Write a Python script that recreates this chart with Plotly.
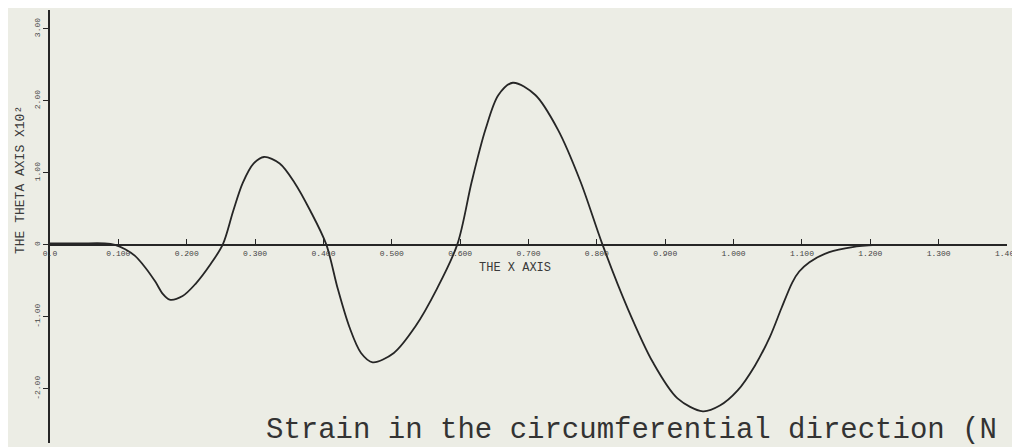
import plotly.graph_objects as go

# Curve data
x_vals = [0.000, 0.044, 0.080, 0.095, 0.110, 0.124, 0.139, 0.154, 0.165, 0.175,
          0.194, 0.213, 0.234, 0.253, 0.268, 0.282, 0.298, 0.313, 0.336, 0.358,
          0.381, 0.404, 0.421, 0.438, 0.455, 0.472, 0.503, 0.534, 0.566, 0.596,
          0.617, 0.637, 0.656, 0.677, 0.710, 0.743, 0.776, 0.808, 0.845, 0.882,
          0.918, 0.955, 0.980, 1.006, 1.031, 1.053, 1.070, 1.086, 1.096, 1.111,
          1.140, 1.174, 1.209]
theta_vals = [0.02, 0.02, 0.02, 0.00, -0.06, -0.15, -0.31, -0.51, -0.68, -0.76,
              -0.71, -0.54, -0.28, 0.01, 0.47, 0.86, 1.13, 1.22, 1.13, 0.86,
              0.47, 0.01, -0.61, -1.14, -1.50, -1.63, -1.50, -1.14, -0.61, 0.01,
              0.88, 1.60, 2.08, 2.25, 2.08, 1.60, 0.88, 0.01, -0.88, -1.63,
              -2.13, -2.31, -2.23, -2.02, -1.68, -1.28, -0.88, -0.52, -0.37, -0.24,
              -0.10, -0.03, 0.00]

x_tick_vals = [0.0, 0.1, 0.2, 0.3, 0.4, 0.5, 0.6, 0.7, 0.8, 0.9, 1.0, 1.1, 1.2, 1.3, 1.4]
x_tick_text = ["0.0", "0.100", "0.200", "0.300", "0.400", "0.500", "0.600", "0.700",
               "0.800", "0.900", "1.000", "1.100", "1.200", "1.300", "1.400"]
y_tick_vals = [-2, -1, 0, 1, 2, 3]
y_tick_text = ["-2.00", "-1.00", "0", "1.00", "2.00", "3.00"]

x_range = [0, 1.4]
y_range = [-2.75, 3.26]

paper_bg = "#ECEDE5"
ink = "#262626"
mono = "Liberation Mono, DejaVu Sans Mono, monospace"

fig = go.Figure()
fig.add_trace(go.Scatter(
    x=x_vals, y=theta_vals, mode="lines",
    line=dict(color=ink, width=1.8, shape="spline", smoothing=0.9),
    hoverinfo="skip", showlegend=False,
))

zero_pos = (0 - y_range[0]) / (y_range[1] - y_range[0])

fig.update_layout(
    width=1020, height=447,
    margin=dict(l=42, r=21, t=2, b=12),
    paper_bgcolor=paper_bg, plot_bgcolor=paper_bg,
    showlegend=False,
    xaxis=dict(
        range=x_range, anchor="free", position=zero_pos, automargin=False,
        showline=True, linecolor=ink, linewidth=2.2,
        showgrid=False, zeroline=False,
        ticks="inside", ticklen=5, tickwidth=1, tickcolor=ink,
        tickvals=x_tick_vals, ticktext=x_tick_text,
        tickfont=dict(family=mono, size=8, color="#444"),
    ),
    yaxis=dict(
        range=y_range, automargin=False,
        showline=True, linecolor=ink, linewidth=1.6,
        showgrid=False, zeroline=False,
        ticks="outside", ticklen=5, tickwidth=1, tickcolor=ink,
        tickvals=y_tick_vals, ticktext=y_tick_text, tickangle=-90,
        tickfont=dict(family=mono, size=8, color="#444"),
    ),
    annotations=[
        dict(text="THE X AXIS", xref="paper", yref="paper",
             x=(515 - 50) / 957, y=(443 - 268) / 433, showarrow=False,
             font=dict(family=mono, size=12, color="#3a3a3a")),
        dict(text="THE THETA AXIS X10²", xref="paper", yref="paper",
             x=(20 - 50) / 957, y=(443 - 180) / 433, textangle=-90,
             xanchor="center", yanchor="middle", showarrow=False,
             font=dict(family=mono, size=13, color="#3a3a3a")),
        dict(text="Strain in the circumferential direction (N", xref="paper", yref="paper",
             x=(264 - 50) / 957, y=(443 - 412) / 433, xanchor="left", yanchor="top",
             showarrow=False,
             font=dict(family=mono, size=29, color="#333")),
    ],
)

fig.write_html("out.html")
